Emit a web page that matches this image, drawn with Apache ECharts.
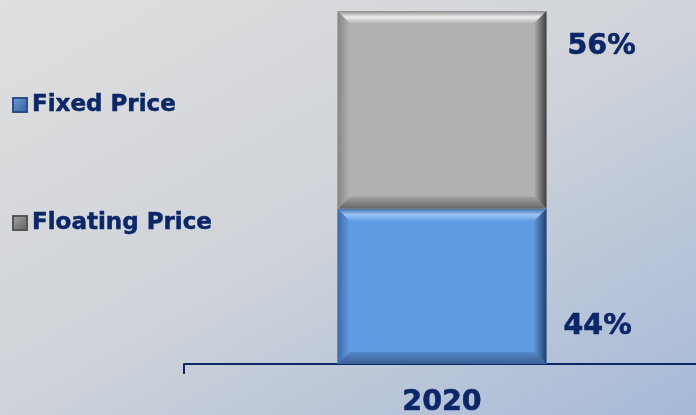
<!DOCTYPE html>
<html>
<head>
<meta charset="utf-8">
<script src="https://cdn.jsdelivr.net/npm/echarts@6/dist/echarts.min.js"></script>
<style>
  html, body { margin: 0; padding: 0; }
  #chart { width: 696px; height: 415px; }
</style>
</head>
<body>
<div id="chart"></div>
<script>
// Price structure split (share of volume, %)
const categories = ['2020'];
const fixedPrice = [44];
const floatingPrice = [56];
const seriesNames = ['Fixed Price', 'Floating Price'];

const NAVY = '#0c2767';
const FONT = 'DejaVu Sans';

// Bevel palettes for each stack segment
const palettes = {
  'Fixed Price': {
    base: '#5f9be3',
    top: ['#3f6fae', '#9cc4f2', '#66a1e6'],
    bottom: ['#5587c8', '#3a5f93'],
    left: ['#3d6aa6', '#5f9be3'],
    right: ['#5a93d6', '#22406a'],
    legend: ['#6f9fd8', '#2f5d9c']
  },
  'Floating Price': {
    base: '#b1b1b1',
    top: ['#8c8c8c', '#ececec', '#b7b7b7'],
    bottom: ['#a0a0a0', '#666666'],
    left: ['#858585', '#b1b1b1'],
    right: ['#ababab', '#3e3e3e'],
    legend: ['#a6a6a6', '#5e5e5e']
  }
};

// Stack the two shares into [category, from, to] rows
function stackRows(values, below) {
  return values.map((v, i) => {
    const start = below ? below[i] : 0;
    return [i, start, start + v];
  });
}
const fixedRows = stackRows(fixedPrice, null);
const floatingRows = stackRows(floatingPrice, fixedPrice);

function grad(x, y, x2, y2, colors) {
  return new echarts.graphic.LinearGradient(x, y, x2, y2,
    colors.map((c, i) => ({ offset: i / (colors.length - 1), color: c })));
}

function bevelBar(labelAtTop) {
  return function (params, api) {
    const pal = palettes[params.seriesName];
    const cat = api.value(0);
    const from = api.value(1);
    const to = api.value(2);
    const lo = api.coord([cat, from]);
    const hi = api.coord([cat, to]);
    const w = api.size([1, 0])[0] * 0.405;
    const x0 = lo[0] - w / 2, x1 = x0 + w;
    const y0 = hi[1], y1 = lo[1];
    const b = 12;
    const children = [
      { type: 'rect', shape: { x: x0, y: y0, width: w, height: y1 - y0 }, style: { fill: pal.base } },
      { type: 'polygon', shape: { points: [[x0, y0], [x1, y0], [x1 - b, y0 + b], [x0 + b, y0 + b]] },
        style: { fill: grad(0, 0, 0, 1, pal.top) } },
      { type: 'polygon', shape: { points: [[x0, y1], [x1, y1], [x1 - b, y1 - b], [x0 + b, y1 - b]] },
        style: { fill: grad(0, 0, 0, 1, pal.bottom) } },
      { type: 'polygon', shape: { points: [[x0, y0], [x0 + b, y0 + b], [x0 + b, y1 - b], [x0, y1]] },
        style: { fill: grad(0, 0, 1, 0, pal.left) } },
      { type: 'polygon', shape: { points: [[x1, y0], [x1 - b, y0 + b], [x1 - b, y1 - b], [x1, y1]] },
        style: { fill: grad(0, 0, 1, 0, pal.right) } }
    ];
    const share = Math.round(to - from);
    children.push({
      type: 'text',
      style: {
        text: share + '%',
        x: x1 + (labelAtTop ? 21 : 17),
        y: labelAtTop ? y0 + 36 : y1 - 37,
        verticalAlign: 'middle',
        align: 'left',
        fill: NAVY,
        stroke: NAVY,
        lineWidth: 0.6,
        font: 'bold 28.5px "' + FONT + '"'
      }
    });
    return { type: 'group', children };
  };
}

const chart = echarts.init(document.getElementById('chart'), null, { renderer: 'canvas' });
chart.setOption({
  animation: false,
  backgroundColor: {
    type: 'linear', x: 0, y: 0, x2: 340, y2: 613, global: true,
    colorStops: [
      { offset: 0, color: '#dfdfdf' },
      { offset: 0.5, color: '#cfd3d9' },
      { offset: 1, color: '#a6b9d8' }
    ]
  },
  legend: {
    orient: 'vertical',
    left: 7,
    top: 88,
    itemGap: 94,
    itemWidth: 14,
    itemHeight: 14,
    icon: 'rect',
    data: seriesNames,
    textStyle: {
      color: NAVY, fontFamily: FONT, fontWeight: 'bold', fontSize: 23, lineHeight: 24,
      textBorderColor: NAVY, textBorderWidth: 0.5
    }
  },
  grid: { left: 184, right: -4, top: 11, bottom: 51, containLabel: false, outerBoundsMode: 'none' },
  xAxis: {
    type: 'category',
    data: categories,
    axisLine: { lineStyle: { color: NAVY, width: 2 } },
    axisTick: { show: true, length: 10, lineStyle: { color: NAVY, width: 2 } },
    axisLabel: {
      color: NAVY, fontFamily: FONT, fontWeight: 'bold', fontSize: 28.5, margin: 24,
      textBorderColor: NAVY, textBorderWidth: 0.6
    }
  },
  yAxis: { type: 'value', min: 0, max: 100, show: false },
  series: [
    {
      name: seriesNames[0], type: 'custom', renderItem: bevelBar(false),
      itemStyle: { color: grad(0, 0, 1, 1, palettes['Fixed Price'].legend), borderColor: '#2a4f86', borderWidth: 1 },
      encode: { x: 0, y: [1, 2] }, data: fixedRows
    },
    {
      name: seriesNames[1], type: 'custom', renderItem: bevelBar(true),
      itemStyle: { color: grad(0, 0, 1, 1, palettes['Floating Price'].legend), borderColor: '#555555', borderWidth: 1 },
      encode: { x: 0, y: [1, 2] }, data: floatingRows
    }
  ]
});
</script>
</body>
</html>
